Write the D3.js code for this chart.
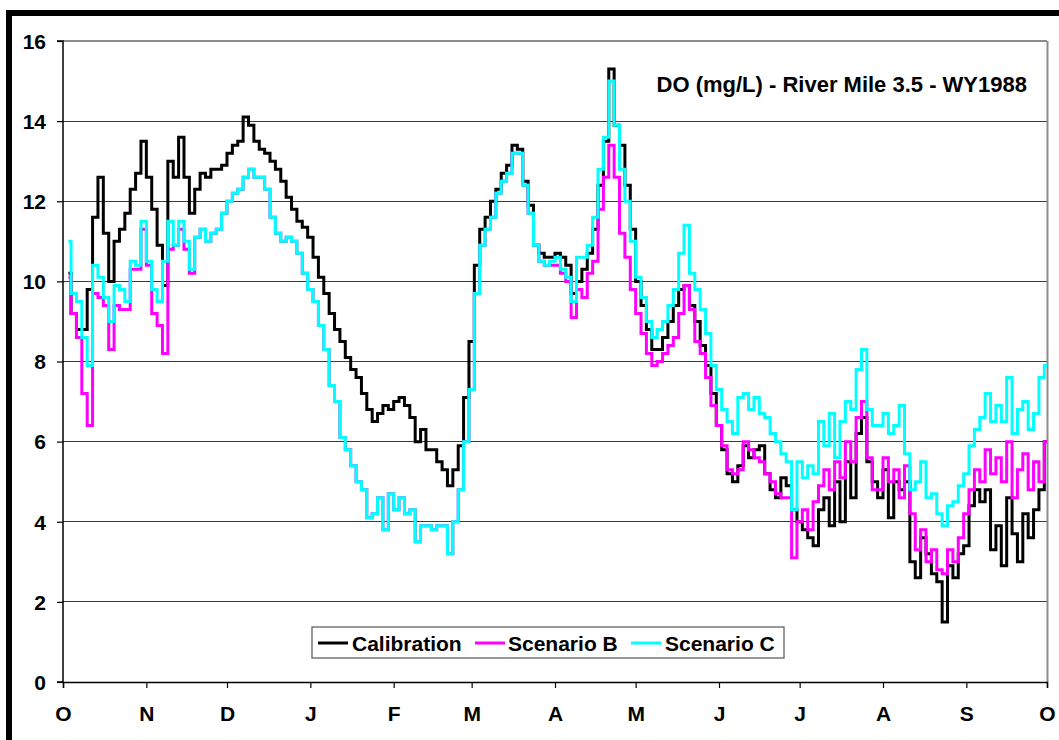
<!DOCTYPE html>
<html>
<head>
<meta charset="utf-8">
<script src="https://cdn.jsdelivr.net/npm/d3@7"></script>
<style>
  html, body { margin: 0; padding: 0; background: #fff; }
  svg { display: block; }
  text { font-family: "Liberation Sans", Arial, sans-serif; font-weight: bold; }
</style>
</head>
<body>
<svg id="chart" width="1059" height="740"></svg>
<script>
// ---- data (day of water year, 2-day spacing) ----
const startDay = 2;
const stepDays = 2;

const calibration = [
  10.2, 9.2, 8.8, 8.8, 9.8, 11.6, 12.6, 11.2, 10.0, 11.0,
  11.3, 11.7, 12.3, 12.7, 13.5, 12.6, 11.8, 10.9, 9.9, 13.0,
  12.6, 13.6, 12.6, 11.7, 12.3, 12.7, 12.6, 12.8, 12.8, 12.9,
  13.2, 13.4, 13.5, 14.1, 13.9, 13.5, 13.3, 13.2, 13.0, 12.8,
  12.5, 12.1, 11.8, 11.5, 11.35, 11.1, 10.6, 10.1, 9.7, 9.2,
  8.8, 8.5, 8.1, 7.8, 7.6, 7.2, 6.8, 6.5, 6.7, 6.9,
  6.8, 7.0, 7.1, 6.9, 6.6, 6.0, 6.3, 5.8, 5.8, 5.5,
  5.3, 4.9, 5.3, 5.9, 7.1, 8.5, 10.4, 11.3, 11.6, 12.0,
  12.3, 12.7, 12.9, 13.4, 13.3, 12.5, 11.9, 10.9, 10.7, 10.6,
  10.6, 10.7, 10.6, 10.4, 9.7, 10.0, 10.3, 10.7, 11.3, 12.4,
  13.5, 15.3, 13.9, 13.4, 12.4, 11.3, 10.0, 9.4, 8.8, 8.3,
  8.3, 8.6, 9.0, 9.4, 9.8, 9.9, 9.4, 9.0, 8.4, 7.9,
  7.2, 6.4, 5.8, 5.2, 5.0, 5.4, 5.9, 5.6, 5.8, 5.9,
  5.2, 4.8, 4.6, 5.1, 4.9, 4.3, 4.0, 3.8, 3.6, 3.4,
  4.3, 4.6, 3.9, 5.0, 4.0, 5.5, 4.6, 6.2, 6.6, 5.5,
  5.0, 4.6, 5.3, 4.1, 5.0, 4.8, 5.0, 3.0, 2.6, 3.6,
  3.2, 2.7, 2.5, 1.5, 2.9, 2.6, 3.2, 3.4, 4.4, 4.8,
  4.5, 4.8, 3.3, 3.9, 2.9, 4.6, 3.7, 3.0, 4.2, 3.6,
  4.3, 4.8, 6.0
];

const scenarioB = [
  10.1, 9.2, 8.6, 7.2, 6.4, 9.7, 9.6, 9.4, 8.3, 9.4,
  9.3, 9.3, 10.3, 10.3, 11.3, 10.4, 9.2, 8.9, 8.2, 10.8,
  10.9, 11.3, 10.8, 10.2, 11.1, 11.3, 11.0, 11.2, 11.3, 11.7,
  12.0, 12.2, 12.3, 12.6, 12.8, 12.6, 12.6, 12.3, 11.6, 11.2,
  11.0, 11.1, 11.0, 10.7, 10.2, 9.8, 9.5, 8.9, 8.3, 7.4,
  7.0, 6.1, 5.8, 5.4, 5.0, 4.8, 4.1, 4.2, 4.6, 3.8,
  4.7, 4.3, 4.6, 4.2, 4.3, 3.5, 3.9, 3.9, 3.8, 3.9,
  3.9, 3.2, 4.0, 4.8, 6.0, 7.3, 9.7, 10.9, 11.3, 11.6,
  12.2, 12.5, 12.7, 13.2, 13.2, 12.4, 11.7, 10.9, 10.5, 10.4,
  10.4, 10.4, 10.2, 10.0, 9.1, 9.8, 9.6, 10.2, 10.5, 11.8,
  12.6, 13.4, 12.6, 11.2, 10.6, 9.8, 9.2, 8.7, 8.2, 7.9,
  8.0, 8.2, 8.4, 8.6, 9.2, 9.9, 9.3, 8.5, 8.2, 7.6,
  6.9, 6.4, 5.9, 5.3, 5.2, 5.3, 6.0, 5.8, 5.6, 5.5,
  5.2, 5.0, 4.7, 4.6, 4.6, 3.1, 4.0, 4.3, 3.8, 4.5,
  4.9, 5.3, 4.8, 5.5, 5.1, 6.0, 5.5, 6.6, 7.0, 5.6,
  4.8, 4.8, 5.6, 5.0, 5.3, 4.6, 5.4, 4.2, 3.3, 3.8,
  3.0, 3.3, 2.8, 2.7, 3.3, 3.0, 3.6, 4.2, 4.8, 5.3,
  5.0, 5.8, 5.2, 5.6, 5.0, 6.0, 4.6, 5.3, 5.7, 4.8,
  5.5, 5.0, 6.0
];

const scenarioC = [
  11.0, 9.7, 9.5, 8.6, 7.9, 10.4, 10.1, 9.6, 9.0, 9.9,
  9.8, 9.5, 10.5, 10.4, 11.5, 10.5, 9.8, 9.5, 10.5, 11.5,
  10.9, 11.5, 11.0, 10.3, 11.1, 11.3, 11.0, 11.2, 11.3, 11.7,
  12.0, 12.2, 12.3, 12.6, 12.8, 12.6, 12.6, 12.3, 11.6, 11.2,
  11.0, 11.1, 11.0, 10.7, 10.2, 9.8, 9.5, 8.9, 8.3, 7.4,
  7.0, 6.1, 5.8, 5.4, 5.0, 4.8, 4.1, 4.2, 4.6, 3.8,
  4.7, 4.3, 4.6, 4.2, 4.3, 3.5, 3.9, 3.9, 3.8, 3.9,
  3.9, 3.2, 4.0, 4.8, 6.0, 7.3, 9.7, 10.9, 11.3, 11.6,
  12.2, 12.5, 12.7, 13.2, 13.2, 12.4, 11.7, 10.9, 10.5, 10.4,
  10.5, 10.6, 10.3, 10.1, 9.5, 10.6, 10.6, 10.9, 11.6, 12.8,
  13.6, 15.0, 13.9, 12.8, 12.0, 11.0, 10.1, 9.6, 9.0, 8.6,
  8.8, 9.0, 9.4, 9.8, 10.7, 11.4, 10.2, 9.8, 9.3, 8.7,
  7.9, 7.3, 6.8, 6.5, 6.2, 7.1, 7.2, 6.8, 7.1, 6.7,
  6.6, 6.2, 6.0, 5.7, 5.5, 4.3, 5.5, 5.1, 5.4, 5.2,
  6.5, 5.9, 6.7, 5.6, 6.5, 7.0, 6.8, 7.8, 8.3, 6.8,
  6.4, 6.4, 6.7, 6.2, 6.4, 6.9, 5.7, 4.8, 5.0, 5.5,
  4.6, 4.7, 4.2, 3.9, 4.4, 4.5, 4.9, 5.2, 5.9, 6.3,
  6.6, 7.2, 6.5, 6.9, 6.5, 7.6, 6.2, 6.8, 7.0, 6.3,
  6.7, 7.6, 7.9
];

const seriesNames = ["Calibration", "Scenario B", "Scenario C"];
const seriesColors = ["#000000", "#FF00FF", "#00FFFF"];

const monthDays = [0, 31, 61, 92, 123, 152, 183, 213, 244, 274, 305, 336, 366];
const monthLabels = ["O", "N", "D", "J", "F", "M", "A", "M", "J", "J", "A", "S", "O"];
const yTicks = [0, 2, 4, 6, 8, 10, 12, 14, 16];
const title = "DO (mg/L) - River Mile 3.5 - WY1988";

// ---- drawing ----
const svg = d3.select("#chart");
const L = 63, R = 1047, T = 41, B = 682;
const FONT = '"Liberation Sans", Arial, sans-serif';

const x = d3.scaleLinear().domain([0, 366]).range([L, R]);
const y = d3.scaleLinear().domain([0, 16]).range([B, T]);

// outer frame
svg.append("rect")
  .attr("x", 9).attr("y", 13)
  .attr("width", 1200).attr("height", 900)
  .attr("fill", "#fff")
  .attr("stroke", "#000").attr("stroke-width", 6);

// gridlines
svg.append("g").selectAll("line")
  .data(yTicks.filter(v => v > 0))
  .join("line")
  .attr("x1", L).attr("x2", R)
  .attr("y1", d => y(d)).attr("y2", d => y(d))
  .attr("stroke", d => d === 16 ? "#8c8c8c" : "#3a3a3a")
  .attr("stroke-width", d => d === 16 ? 1.5 : 1.2)
  .attr("shape-rendering", "crispEdges");

// right plot border
svg.append("line")
  .attr("x1", R + 0.5).attr("x2", R + 0.5).attr("y1", T).attr("y2", B)
  .attr("stroke", "#8c8c8c").attr("stroke-width", 2);

// series
const line = d3.line()
  .x((d, i) => x(startDay + i * stepDays))
  .y(d => y(d))
  .curve(d3.curveStep);

const allSeries = [calibration, scenarioB, scenarioC];
svg.append("g").selectAll("path")
  .data(allSeries)
  .join("path")
  .attr("d", d => line(d))
  .attr("fill", "none")
  .attr("stroke", (d, i) => seriesColors[i])
  .attr("stroke-width", 3)
  .attr("stroke-linejoin", "miter");

// axes
const yAxis = svg.append("g")
  .attr("transform", `translate(${L},0)`)
  .call(d3.axisLeft(y).tickValues(yTicks).tickSize(6).tickPadding(10).tickFormat(d3.format("d")));
const xAxis = svg.append("g")
  .attr("transform", `translate(0,${B})`)
  .call(d3.axisBottom(x).tickValues(monthDays).tickSize(6).tickPadding(14)
    .tickFormat((d, i) => monthLabels[i]));

[yAxis, xAxis].forEach(g => {
  g.select(".domain").attr("stroke", "#000").attr("stroke-width", 1.5);
  g.selectAll(".tick line").attr("stroke", "#000").attr("stroke-width", 1.2);
  g.selectAll("text")
    .attr("fill", "#000")
    .style("font-family", FONT)
    .style("font-weight", "bold")
    .style("font-size", "21px");
});
yAxis.select(".domain").attr("d", `M-6,${B}H0V${T}H-6`);
yAxis.selectAll(".tick text").attr("x", -17).attr("dy", "0.35em");
xAxis.selectAll(".tick text").attr("y", 24).attr("dy", "0.71em");

// title
svg.append("text")
  .attr("x", 1027).attr("y", 92)
  .attr("text-anchor", "end")
  .style("font-size", "22px")
  .text(title);

// legend
const lg = svg.append("g");
lg.append("rect")
  .attr("x", 312).attr("y", 627).attr("width", 472).attr("height", 31)
  .attr("fill", "#fff").attr("stroke", "#555").attr("stroke-width", 1.2);
const legendLineX = [318, 475, 631];
const legendTextX = [352, 508, 665];
seriesNames.forEach((name, i) => {
  lg.append("line")
    .attr("x1", legendLineX[i]).attr("x2", legendLineX[i] + 30)
    .attr("y1", 643).attr("y2", 643)
    .attr("stroke", seriesColors[i]).attr("stroke-width", 3);
  lg.append("text")
    .attr("x", legendTextX[i]).attr("y", 651)
    .style("font-size", "21px")
    .text(name);
});
</script>
</body>
</html>
